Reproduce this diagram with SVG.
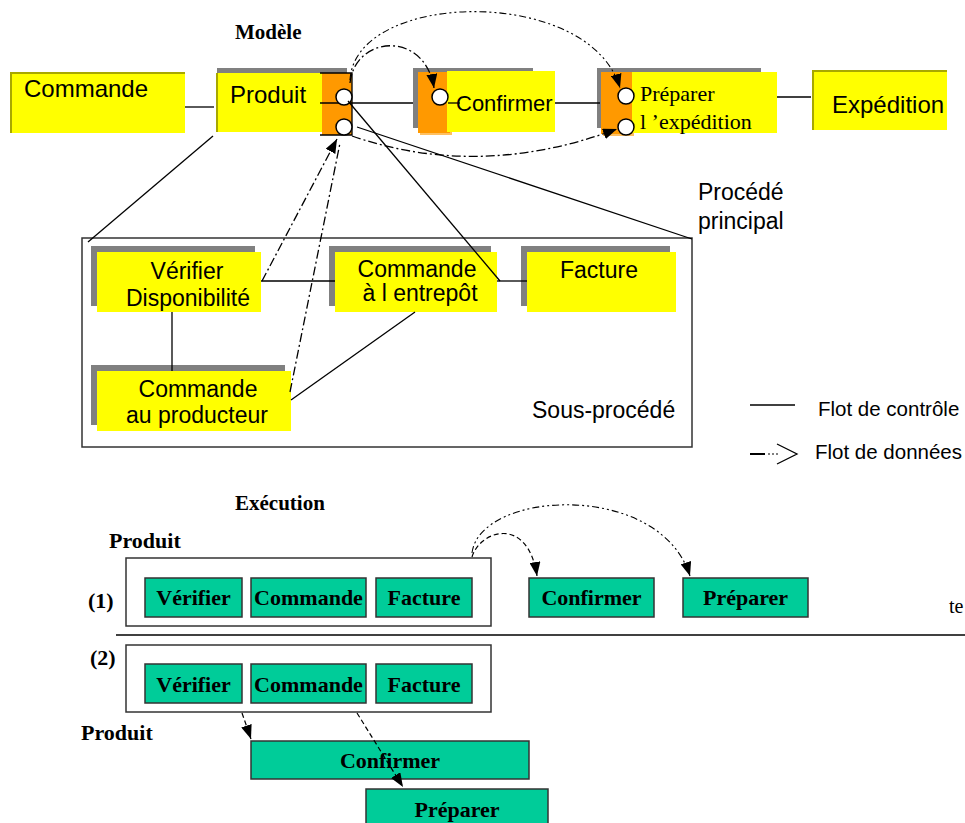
<svg xmlns="http://www.w3.org/2000/svg" width="965" height="823" viewBox="0 0 965 823">
<defs>
<style>
.sans{font-family:"Liberation Sans",Arial,sans-serif;fill:#000}
.serif{font-family:"Liberation Serif","Times New Roman",serif;fill:#000}
.b{font-weight:bold}
.mid{text-anchor:middle}
.yel{fill:#ffff00}
.edge{fill:none;stroke:#a8a800;stroke-width:2}
.gray{fill:#808080}
.org{fill:#ff9900}
.port{fill:#fff;stroke:#000;stroke-width:1.5}
.ctl{fill:none;stroke:#000;stroke-width:1.3}
.df{fill:none;stroke:#000;stroke-width:1.3;stroke-dasharray:9 3 2 3}
.df2{fill:none;stroke:#000;stroke-width:1.1;stroke-dasharray:7 3 2 3 2 3}
.dash{fill:none;stroke:#000;stroke-width:1.2;stroke-dasharray:5 3}
.teal{fill:#00cc99;stroke:#333;stroke-width:1.5}
.frame{fill:none;stroke:#333;stroke-width:1.5}
</style>
<marker id="ah" viewBox="0 0 14 11" refX="14" refY="5.5" markerWidth="14" markerHeight="11" markerUnits="userSpaceOnUse" orient="auto"><path d="M0,0 L14,5.5 L0,11 z" fill="#000"/></marker>
</defs>
<rect width="965" height="823" fill="#fff"/>

<text class="serif b" x="235" y="39" font-size="21">Modèle</text>

<g id="commande">
<rect class="yel" x="10" y="72" width="175" height="61"/>
<path class="edge" d="M11,133 V73 H185"/>
<text class="sans" x="24" y="97" font-size="24">Commande</text>
</g>

<g id="produit">
<rect class="gray" x="217" y="68" width="130" height="60"/>
<rect class="yel" x="216" y="73" width="106" height="59"/>
<path class="edge" d="M217,132 V73"/>
<rect class="org" x="322" y="73" width="30" height="62"/>
<path class="ctl" d="M320,73 H352 V135 H320 M320,103 H352"/>
<circle class="port" cx="344" cy="97" r="8"/>
<circle class="port" cx="344" cy="127" r="8"/>
<text class="sans" x="230" y="103" font-size="24">Produit</text>
</g>

<g id="confirmer">
<rect class="gray" x="413" y="68" width="120" height="60"/>
<rect x="420" y="74" width="32" height="61" fill="#ffc060"/>
<rect class="org" x="418" y="72" width="32" height="61"/>
<rect class="yel" x="447" y="71" width="108" height="61"/>
<circle class="port" cx="440" cy="97" r="8"/>
<path class="ctl" d="M448,103 H460"/>
<text class="sans" x="456" y="111" font-size="22">Confirmer</text>
</g>

<g id="preparer">
<rect class="gray" x="597" y="68" width="164" height="60"/>
<rect x="603" y="74" width="31" height="62" fill="#ffc060"/>
<rect class="org" x="601" y="72" width="31" height="62"/>
<rect class="yel" x="632" y="72" width="145" height="61"/>
<circle class="port" cx="626" cy="96" r="8"/>
<circle class="port" cx="626" cy="127" r="8"/>
<text class="serif" x="640" y="101" font-size="22">Préparer</text>
<text class="serif" x="640" y="129" font-size="22">l ’expédition</text>
</g>

<g id="expedition">
<rect class="yel" x="812" y="70" width="135" height="60"/>
<path class="edge" d="M813,130 V71 H947"/>
<text class="sans" x="832" y="113" font-size="24">Expédition</text>
</g>

<g id="sous-procede">
<rect class="frame" x="82" y="238" width="610" height="209"/>
<text class="sans" x="532" y="418" font-size="23">Sous-procédé</text>
</g>

<g id="procede-principal">
<text class="sans" x="698" y="200" font-size="23">Procédé</text>
<text class="sans" x="698" y="229" font-size="23">principal</text>
</g>

<g id="verifier">
<rect class="gray" x="91" y="246" width="164" height="60"/>
<rect class="yel" x="97" y="252" width="164" height="60"/>
<text class="sans mid" x="187" y="279" font-size="23">Vérifier</text>
<text class="sans mid" x="188" y="306" font-size="23">Disponibilité</text>
</g>

<g id="entrepot">
<rect class="gray" x="329" y="246" width="162" height="60"/>
<rect class="yel" x="335" y="252" width="162" height="60"/>
<text class="sans mid" x="417" y="277" font-size="23">Commande</text>
<text class="sans mid" x="420" y="301" font-size="23">à l entrepôt</text>
</g>

<g id="facture">
<rect class="gray" x="521" y="246" width="149" height="60"/>
<rect class="yel" x="527" y="252" width="149" height="60"/>
<text class="sans mid" x="599" y="278" font-size="23">Facture</text>
</g>

<g id="producteur">
<rect class="gray" x="91" y="365" width="194" height="60"/>
<rect class="yel" x="97" y="371" width="194" height="60"/>
<text class="sans mid" x="198" y="397" font-size="23">Commande</text>
<text class="sans mid" x="197" y="423" font-size="23">au producteur</text>
</g>

<g id="legende">
<path class="ctl" d="M750,405 H795"/>
<text class="sans" x="818" y="416" font-size="20.5">Flot de contrôle</text>
<path d="M750,454 H765" stroke="#000" stroke-width="2"/>
<path d="M768,454 H780" stroke="#000" stroke-width="1.2" stroke-dasharray="2 2"/>
<path d="M777,444 L797,454 L777,464" fill="none" stroke="#000" stroke-width="1.3"/>
<text class="sans" x="815" y="459" font-size="20.5">Flot de données</text>
</g>

<text class="serif b" x="235" y="510" font-size="21">Exécution</text>

<g id="execution-1">
<text class="serif b" x="109" y="548" font-size="22">Produit</text>
<text class="serif b" x="88" y="608" font-size="22">(1)</text>
<rect class="frame" x="126" y="558" width="365" height="68"/>
<rect class="teal" x="145" y="578" width="97" height="39"/>
<text class="serif b mid" x="193.5" y="605" font-size="22">Vérifier</text>
<rect class="teal" x="251" y="578" width="115" height="39"/>
<text class="serif b mid" x="308.5" y="605" font-size="22">Commande</text>
<rect class="teal" x="376" y="578" width="96" height="39"/>
<text class="serif b mid" x="424" y="605" font-size="22">Facture</text>
</g>
<g id="confirmer-1">
<rect class="teal" x="529" y="578" width="125" height="39"/>
<text class="serif b mid" x="591.5" y="605" font-size="22">Confirmer</text>
</g>
<g id="preparer-1">
<rect class="teal" x="683" y="578" width="125" height="39"/>
<text class="serif b mid" x="745.5" y="605" font-size="22">Préparer</text>
</g>
<text class="serif" x="949" y="613" font-size="20">te</text>
<path d="M116,635 H965" stroke="#000" stroke-width="1.3"/>

<g id="execution-2">
<text class="serif b" x="90" y="665" font-size="22">(2)</text>
<rect class="frame" x="126" y="645" width="365" height="67"/>
<rect class="teal" x="145" y="664" width="97" height="39"/>
<text class="serif b mid" x="193.5" y="692" font-size="22">Vérifier</text>
<rect class="teal" x="251" y="664" width="115" height="39"/>
<text class="serif b mid" x="308.5" y="692" font-size="22">Commande</text>
<rect class="teal" x="376" y="664" width="96" height="39"/>
<text class="serif b mid" x="424" y="692" font-size="22">Facture</text>
<text class="serif b" x="81" y="740" font-size="22">Produit</text>
</g>
<g id="confirmer-2">
<rect class="teal" x="251" y="741" width="278" height="38"/>
<text class="serif b mid" x="390" y="768" font-size="22">Confirmer</text>
</g>
<g id="preparer-2">
<rect class="teal" x="366" y="789" width="182" height="40"/>
<text class="serif b mid" x="457" y="817" font-size="22">Préparer</text>
</g>

<g id="connectors">
<path class="ctl" d="M185,107 H214"/>
<path class="ctl" d="M352,103 H413"/>
<path class="ctl" d="M555,103 H600"/>
<path class="ctl" d="M777,97 H811"/>
<path class="ctl" d="M348,101 L500,281"/>
<path class="ctl" d="M357,127 L692,239"/>
<path class="ctl" d="M213,136 L88,242"/>
<path class="df" d="M350,83 C355,35 425,30 434,88" marker-end="url(#ah)"/>
<path class="df2" d="M350,80 C355,-10 590,-15 620,88" marker-end="url(#ah)"/>
<path class="df" d="M352,136 Q480,180 617,129" marker-end="url(#ah)"/>
<path class="df" d="M262,281 L337,139" marker-end="url(#ah)"/>
<path class="df" d="M290,392 L340,143"/>
<path class="ctl" d="M261,281 H335"/>
<path class="ctl" d="M497,281 H527"/>
<path class="ctl" d="M172,312 V371"/>
<path class="ctl" d="M415,312 L291,400"/>
<path class="dash" d="M472,557 C480,530 528,515 537,576" marker-end="url(#ah)"/>
<path class="df2" d="M472,553 C480,490 660,480 690,576" marker-end="url(#ah)"/>
<path class="dash" d="M242,713 L251,739" marker-end="url(#ah)"/>
<path class="dash" d="M357,713 L403,787" marker-end="url(#ah)"/>
</g>
</svg>
